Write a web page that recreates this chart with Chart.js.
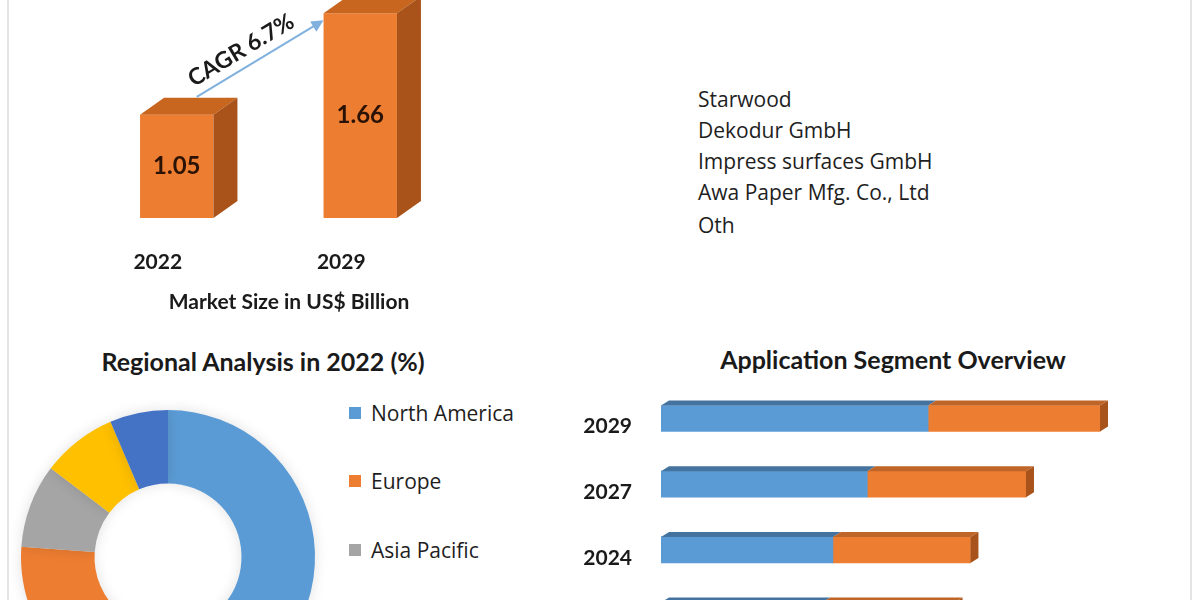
<!DOCTYPE html>
<html>
<head>
<meta charset="utf-8">
<script src="https://cdn.jsdelivr.net/npm/chart.js@4/dist/chart.umd.min.js"></script>
<style>
  html, body { margin:0; padding:0; width:1200px; height:600px; overflow:hidden; background:#fff; }
  body { position:relative; font-family: Lato, "Open Sans", sans-serif; color:#1a1a1a; }
  .abs { position:absolute; white-space:nowrap; }
  .vline { position:absolute; top:0; width:2px; height:600px; background:#e4e4e4; }
  .title { font-weight:700; font-size:25px; line-height:30px; transform:translateX(-50%); }
  .company { font-family:"Open Sans", Lato, sans-serif; font-size:21px; line-height:28px; color:#1e1e1e; }
  .leg { font-family:"Open Sans", Lato, sans-serif; font-size:21px; line-height:28px; color:#1e1e1e; }
  .sw { position:absolute; width:12px; height:12px; }
  canvas { position:absolute; }
</style>
</head>
<body>
<div class="vline" style="left:7px"></div>
<div class="vline" style="left:1190px"></div>

<div class="abs" style="left:0;top:0;width:600px;height:330px"><canvas id="c1"></canvas></div>
<div class="abs title" style="left:289px;top:286px;font-size:21px;">Market Size in US$ Billion</div>

<div id="companies"></div>

<div class="abs title" style="left:263px;top:346px;">Regional Analysis in 2022 (%)</div>
<div class="abs" style="left:-2px;top:387px;width:340px;height:340px"><canvas id="c2"></canvas></div>
<div id="legend"></div>

<div class="abs title" style="left:893px;top:344px;">Application Segment Overview</div>
<div class="abs" style="left:560px;top:330px;width:640px;height:330px"><canvas id="c3"></canvas></div>

<script>
// ---------- Data ----------
const marketYears = ['2022', '2029'];
const marketValues = [1.05, 1.66];
const cagrLabel = 'CAGR 6.7%';

const companies = ['Starwood', 'Dekodur GmbH', 'Impress surfaces GmbH', 'Awa Paper Mfg. Co., Ltd', 'Oth'];

const regions = ['North America', 'Europe', 'Asia Pacific', 'Middle East and Africa', 'South America'];
const regionShares = [46.0, 30.1, 9.2, 8.3, 6.4];
const regionColors = ['#5B9BD5', '#ED7D31', '#A5A5A5', '#FFC000', '#4472C4'];

const appYears = ['2022', '2024', '2027', '2029'];
const appSeries1 = [0.61, 0.65, 0.78, 1.01];
const appSeries2 = [0.50, 0.52, 0.60, 0.65];

const FONT = 'Lato, "Open Sans", sans-serif';

// ---------- Companies list ----------
(function(){
  const ys = [99, 130, 161, 192, 225];
  const box = document.getElementById('companies');
  companies.forEach((c, i) => {
    const d = document.createElement('div');
    d.className = 'abs company';
    d.style.left = '698px';
    d.style.top = (ys[i] - 14) + 'px';
    d.textContent = c;
    box.appendChild(d);
  });
})();

// ---------- Legend ----------
(function(){
  const box = document.getElementById('legend');
  regions.forEach((r, i) => {
    const cy = 413 + i * 68.3;
    const sw = document.createElement('div');
    sw.className = 'sw';
    sw.style.left = '349px';
    sw.style.top = (cy - 6) + 'px';
    sw.style.background = regionColors[i];
    box.appendChild(sw);
    const t = document.createElement('div');
    t.className = 'abs leg';
    t.style.left = '371px';
    t.style.top = (cy - 14) + 'px';
    t.textContent = r;
    box.appendChild(t);
  });
})();

// ---------- Chart 1: 3D market size bars ----------
const bar3dV = {
  id: 'bar3dV',
  afterDatasetsDraw(chart) {
    const ctx = chart.ctx;
    const meta = chart.getDatasetMeta(0);
    const dx = 24, dy = -17;
    const pts = [];
    meta.data.forEach((bar, i) => {
      const p = bar.getProps(['x', 'y', 'base', 'width'], true);
      const base = Math.min(p.base, chart.chartArea.bottom);
      const l = p.x - p.width / 2, r = p.x + p.width / 2;
      pts.push({l, r, x: p.x, y: p.y, base, w: p.width});
      ctx.save();
      ctx.fillStyle = '#C8661F';
      ctx.beginPath();
      ctx.moveTo(l, p.y); ctx.lineTo(r, p.y); ctx.lineTo(r + dx, p.y + dy); ctx.lineTo(l + dx, p.y + dy);
      ctx.closePath(); ctx.fill();
      ctx.fillStyle = '#A9521A';
      ctx.beginPath();
      ctx.moveTo(r, p.y); ctx.lineTo(r + dx, p.y + dy); ctx.lineTo(r + dx, base + dy); ctx.lineTo(r, base);
      ctx.closePath(); ctx.fill();
      ctx.fillStyle = '#2a1205';
      ctx.font = 'bold 24px ' + FONT;
      ctx.textAlign = 'center'; ctx.textBaseline = 'middle';
      ctx.fillText(marketValues[i].toFixed(2), p.x, (p.y + base) / 2);
      ctx.fillStyle = '#1a1a1a';
      ctx.font = 'bold 21px ' + FONT;
      ctx.fillText(marketYears[i], p.x - 19, base + 44);
      ctx.restore();
    });
    // CAGR arrow
    if (pts.length === 2) {
      const x0 = pts[0].x + 20, y0 = pts[0].y - 18;
      const x1 = pts[1].l, y1 = pts[1].y + 7;
      const ang = Math.atan2(y1 - y0, x1 - x0);
      ctx.save();
      ctx.strokeStyle = '#7FB0DE'; ctx.fillStyle = '#7FB0DE'; ctx.lineWidth = 2;
      ctx.beginPath(); ctx.moveTo(x0, y0); ctx.lineTo(x1 - 8 * Math.cos(ang), y1 - 8 * Math.sin(ang)); ctx.stroke();
      ctx.beginPath();
      ctx.moveTo(x1, y1);
      ctx.lineTo(x1 - 12 * Math.cos(ang) + 6 * Math.sin(ang), y1 - 12 * Math.sin(ang) - 6 * Math.cos(ang));
      ctx.lineTo(x1 - 12 * Math.cos(ang) - 6 * Math.sin(ang), y1 - 12 * Math.sin(ang) + 6 * Math.cos(ang));
      ctx.closePath(); ctx.fill();
      const mx = (x0 + x1) / 2, my = (y0 + y1) / 2;
      const nx = Math.sin(ang), ny = -Math.cos(ang);
      const tx = mx + nx * 17 - Math.cos(ang) * 12, ty = my + ny * 17 - Math.sin(ang) * 12;
      ctx.translate(tx, ty); ctx.rotate(ang);
      ctx.fillStyle = '#1a1a1a';
      ctx.font = 'bold 23px ' + FONT;
      ctx.textAlign = 'center'; ctx.textBaseline = 'middle';
      ctx.fillText(cagrLabel, 0, 0);
      ctx.restore();
    }
  }
};

new Chart(document.getElementById('c1'), {
  type: 'bar',
  data: {
    labels: marketYears,
    datasets: [{ data: marketValues, backgroundColor: '#ED7D31', borderWidth: 0,
                 base: 0.43, categoryPercentage: 0.4, barPercentage: 1.0 }]
  },
  options: {
    responsive: true, maintainAspectRatio: false, animation: false,
    layout: { padding: { left: 85, right: 148, top: 0, bottom: 112 } },
    plugins: { legend: { display: false }, tooltip: { enabled: false } },
    scales: {
      x: { display: false },
      y: { display: false, min: 0.43, max: 1.74 }
    }
  },
  plugins: [bar3dV]
});

// ---------- Chart 2: doughnut ----------
const shadowPlugin = {
  id: 'softShadow',
  beforeDatasetsDraw(chart) {
    chart.ctx.save();
    chart.ctx.shadowColor = 'rgba(0,0,0,0.12)';
    chart.ctx.shadowBlur = 14;
  },
  afterDatasetsDraw(chart) { chart.ctx.restore(); }
};
new Chart(document.getElementById('c2'), {
  type: 'doughnut',
  data: {
    labels: regions,
    datasets: [{ data: regionShares, backgroundColor: regionColors, borderWidth: 0 }]
  },
  options: {
    responsive: true, maintainAspectRatio: false, animation: false,
    cutout: '50%',
    layout: { padding: 23 },
    plugins: { legend: { display: false }, tooltip: { enabled: false } }
  },
  plugins: [shadowPlugin]
});

// ---------- Chart 3: horizontal stacked 3D bars ----------
const bar3dH = {
  id: 'bar3dH',
  afterDatasetsDraw(chart) {
    const ctx = chart.ctx;
    const dx = 8, dy = -5;
    const topCols = ['#44739F', '#BF6528'];
    chart.data.datasets.forEach((ds, di) => {
      const meta = chart.getDatasetMeta(di);
      meta.data.forEach((bar) => {
        const p = bar.getProps(['x', 'y', 'base', 'height'], true);
        const yt = p.y - p.height / 2, yb = p.y + p.height / 2;
        ctx.save();
        ctx.fillStyle = topCols[di];
        ctx.beginPath();
        ctx.moveTo(p.base, yt); ctx.lineTo(p.x, yt); ctx.lineTo(p.x + dx, yt + dy); ctx.lineTo(p.base + dx, yt + dy);
        ctx.closePath(); ctx.fill();
        if (di === chart.data.datasets.length - 1) {
          ctx.fillStyle = '#A8531B';
          ctx.beginPath();
          ctx.moveTo(p.x, yt); ctx.lineTo(p.x + dx, yt + dy); ctx.lineTo(p.x + dx, yb + dy); ctx.lineTo(p.x, yb);
          ctx.closePath(); ctx.fill();
        }
        ctx.restore();
      });
    });
    // category labels
    const ys = chart.scales.y;
    ctx.save();
    ctx.fillStyle = '#1a1a1a';
    ctx.font = 'bold 21px ' + FONT;
    ctx.textAlign = 'right'; ctx.textBaseline = 'middle';
    appYears.forEach((lab, i) => {
      ctx.fillText(lab, chart.chartArea.left - 29, ys.getPixelForValue(i) + 8);
    });
    ctx.restore();
  }
};

new Chart(document.getElementById('c3'), {
  type: 'bar',
  data: {
    labels: appYears,
    datasets: [
      { label: 'Segment 1', data: appSeries1, backgroundColor: '#5B9BD5', borderWidth: 0, barThickness: 26 },
      { label: 'Segment 2', data: appSeries2, backgroundColor: '#ED7D31', borderWidth: 0, barThickness: 26 }
    ]
  },
  options: {
    indexAxis: 'y',
    responsive: true, maintainAspectRatio: false, animation: false,
    layout: { padding: { left: 101, right: 36.5, top: 55.65, bottom: 11.55 } },
    plugins: { legend: { display: false }, tooltip: { enabled: false } },
    scales: {
      x: { display: false, stacked: true, min: 0, max: 1.9 },
      y: { display: false, stacked: true, reverse: true }
    }
  },
  plugins: [bar3dH]
});
</script>
</body>
</html>
